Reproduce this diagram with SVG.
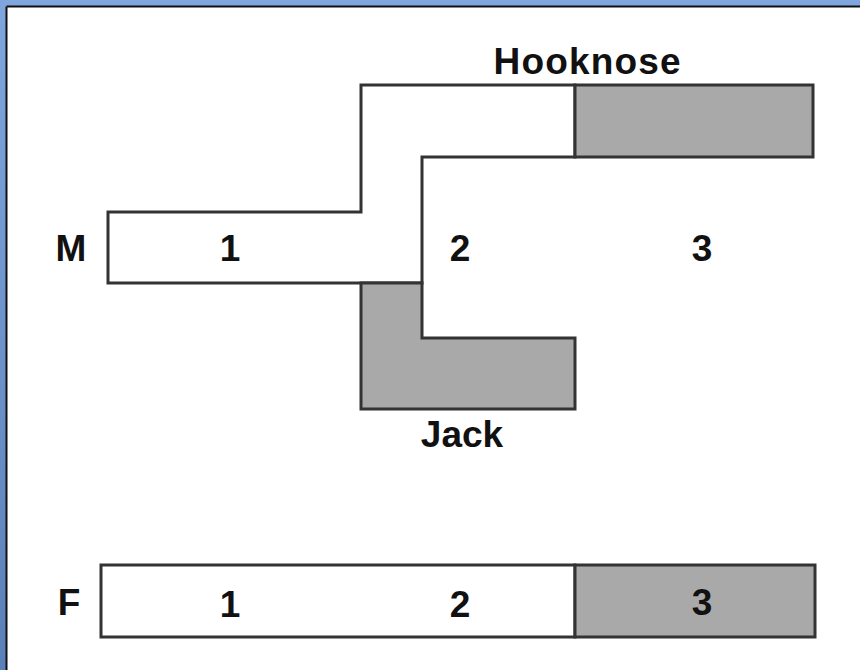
<svg xmlns="http://www.w3.org/2000/svg" width="860" height="670" viewBox="0 0 860 670">
<defs>
<linearGradient id="blueV" x1="0" y1="0" x2="0" y2="1">
<stop offset="0" stop-color="#7fa6dd"/>
<stop offset="1" stop-color="#5b80b8"/>
</linearGradient>
</defs>
<style>
.sh{stroke:#333;stroke-width:3;stroke-linejoin:miter}
.w{fill:#fff}
.g{fill:#a9a9a9}
.t{font-family:"Liberation Sans",Arial,sans-serif;font-weight:bold;font-size:37px;fill:#111;text-anchor:middle}
</style>
<rect x="0" y="0" width="860" height="670" fill="#fff"/>
<rect x="0" y="0" width="860" height="6" fill="#7fa6dd"/>
<rect x="0" y="0" width="6" height="670" fill="url(#blueV)"/>
<line x1="6.5" y1="6.5" x2="860" y2="6.5" stroke="#111" stroke-width="2"/>
<line x1="6.5" y1="6.5" x2="6.5" y2="670" stroke="#111" stroke-width="2"/>

<g id="hooknose">
<polygon class="sh w" points="108,212 361,212 361,85 575,85 575,157 422,157 422,283 108,283"/>
<rect class="sh g" x="575" y="85" width="238" height="72"/>
<text class="t" x="587" y="74" textLength="187">Hooknose</text>
</g>

<g id="jack">
<polygon class="sh g" points="361,283 422,283 422,338 575,338 575,409 361,409"/>
<text class="t" x="462" y="447">Jack</text>
</g>

<g id="m-labels">
<text class="t" x="71" y="261">M</text>
<text class="t" x="230" y="261">1</text>
<text class="t" x="460" y="261">2</text>
<text class="t" x="702" y="261">3</text>
</g>

<g id="f-row">
<rect class="sh w" x="101" y="565" width="474" height="72"/>
<rect class="sh g" x="575" y="565" width="240" height="72"/>
<text class="t" x="69" y="615">F</text>
<text class="t" x="230" y="617">1</text>
<text class="t" x="460" y="617">2</text>
<text class="t" x="702" y="615">3</text>
</g>
</svg>
